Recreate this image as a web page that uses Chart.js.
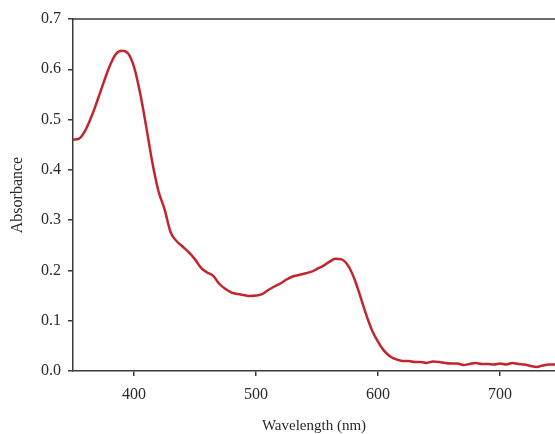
<!DOCTYPE html>
<html>
<head>
<meta charset="utf-8">
<script src="https://cdn.jsdelivr.net/npm/chart.js@4"></script>
<style>
  html, body { margin: 0; padding: 0; background: #fff; }
  #wrap { width: 555px; height: 434px; }
</style>
</head>
<body>
<div id="wrap"><canvas id="c" width="555" height="434"></canvas></div>
<script>
  // wavelength (nm) at 5 nm steps
  var wavelengths = [
    350, 355, 360, 365, 370, 375, 380, 385, 390, 395,
    400, 405, 410, 415, 420, 425, 430, 435, 440, 445,
    450, 455, 460, 465, 470, 475, 480, 485, 490, 495,
    500, 505, 510, 515, 520, 525, 530, 535, 540, 545,
    550, 555, 560, 565, 570, 575, 580, 585, 590, 595,
    600, 605, 610, 615, 620, 625, 630, 635, 640, 645,
    650, 655, 660, 665, 670, 675, 680, 685, 690, 695,
    700, 705, 710, 715, 720, 725, 730, 735, 740, 745
  ];
  var absorbance = [
    0.460, 0.462, 0.478, 0.505, 0.538, 0.573, 0.606, 0.630, 0.637, 0.632,
    0.605, 0.553, 0.486, 0.415, 0.358, 0.322, 0.276, 0.258, 0.247, 0.236,
    0.222, 0.205, 0.196, 0.189, 0.173, 0.163, 0.156, 0.153, 0.151, 0.149,
    0.150, 0.153, 0.161, 0.168, 0.174, 0.182, 0.188, 0.191, 0.194, 0.197,
    0.203, 0.209, 0.217, 0.223, 0.222, 0.211, 0.187, 0.152, 0.114, 0.081,
    0.058, 0.040, 0.029, 0.023, 0.020, 0.020, 0.018, 0.018, 0.016, 0.019,
    0.018, 0.016, 0.015, 0.015, 0.012, 0.014, 0.016, 0.014, 0.014, 0.013,
    0.015, 0.013, 0.016, 0.014, 0.013, 0.010, 0.008, 0.011, 0.013, 0.013
  ];
  var xTicks = [400, 500, 600, 700];
  var yTicks = [0.0, 0.1, 0.2, 0.3, 0.4, 0.5, 0.6, 0.7];

  var AXIS = '#3a3a3a';
  var TEXT = '#2a2a2a';
  var SERIF = "'Liberation Serif', 'DejaVu Serif', serif";

  // top edge of the frame
  var topFrame = {
    id: 'topFrame',
    afterDraw: function(chart) {
      var a = chart.chartArea, ctx = chart.ctx;
      ctx.save();
      ctx.strokeStyle = AXIS;
      ctx.lineWidth = 1.5;
      ctx.beginPath();
      ctx.moveTo(a.left, a.top);
      ctx.lineTo(a.right, a.top);
      ctx.stroke();
      ctx.restore();
    }
  };

  var points = wavelengths.map(function(w, i) { return { x: w, y: absorbance[i] }; });

  new Chart(document.getElementById('c'), {
    type: 'line',
    plugins: [topFrame],
    data: {
      datasets: [{
        data: points,
        borderColor: '#c2262c',
        borderWidth: 2.5,
        pointRadius: 0,
        tension: 0.4,
        cubicInterpolationMode: 'monotone',
        fill: false
      }]
    },
    options: {
      responsive: false,
      animation: false,
      layout: { padding: { top: 19, right: 0, left: 0, bottom: 0 } },
      plugins: { legend: { display: false }, tooltip: { enabled: false } },
      scales: {
        x: {
          type: 'linear',
          min: 350,
          max: 745,
          afterBuildTicks: function(s) { s.ticks = xTicks.map(function(v) { return { value: v }; }); },
          afterFit: function(s) { s.height = 63; },
          grid: { drawOnChartArea: false, drawTicks: true, tickLength: 5, color: AXIS, lineWidth: 1.5 },
          border: { color: AXIS, width: 1.5 },
          ticks: { color: TEXT, padding: 9, maxRotation: 0, font: { family: SERIF, size: 16 } },
          title: { display: true, text: 'Wavelength (nm)', color: TEXT, padding: { top: 0, bottom: 0 }, font: { family: SERIF, size: 15, lineHeight: 1 } }
        },
        y: {
          min: 0,
          max: 0.7,
          afterBuildTicks: function(s) { s.ticks = yTicks.map(function(v) { return { value: v }; }); },
          afterFit: function(s) { s.width = 73; },
          grid: { drawOnChartArea: false, drawTicks: true, tickLength: 5, color: AXIS, lineWidth: 1.5 },
          border: { color: AXIS, width: 1.5 },
          ticks: { color: TEXT, padding: 7, font: { family: SERIF, size: 16 }, callback: function(v) { return Number(v).toFixed(1); } },
          title: { display: true, text: 'Absorbance', color: TEXT, padding: { top: 8, bottom: 0 }, font: { family: SERIF, size: 16 } }
        }
      }
    }
  });
</script>
</body>
</html>
